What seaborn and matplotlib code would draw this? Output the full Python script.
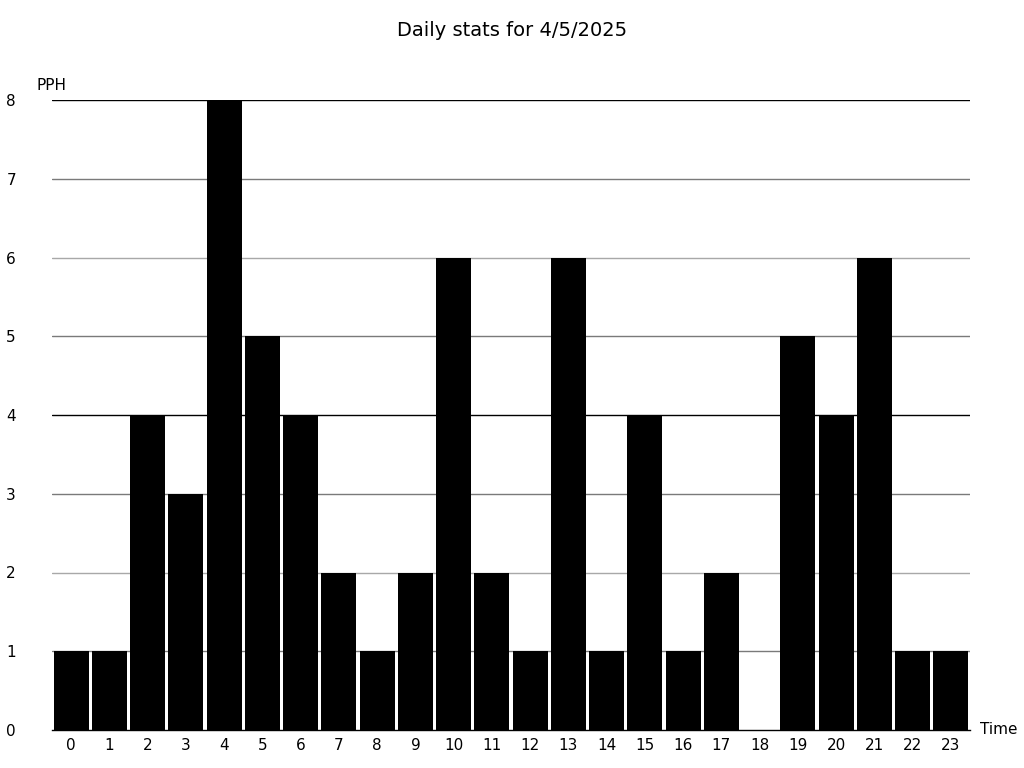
import matplotlib
matplotlib.use("Agg")
import matplotlib.pyplot as plt
import seaborn as sns
import pandas as pd

hours = list(range(24))
pph = [1, 1, 4, 3, 8, 5, 4, 2, 1, 2, 6, 2, 1, 6, 1, 4, 1, 2, 0, 5, 4, 6, 1, 1]
title = "Daily stats for 4/5/2025"
y_ticks = [0, 1, 2, 3, 4, 5, 6, 7, 8]
grid_colors = {1: "#7a7a7a", 2: "#a8a8a8", 3: "#7a7a7a", 4: "#000000",
               5: "#7a7a7a", 6: "#a8a8a8", 7: "#7a7a7a", 8: "#000000"}

sns.set_style("white")
plt.rcParams['font.family'] = ['DejaVu Sans']
plt.rcParams['text.color'] = 'black'
plt.rcParams['xtick.color'] = 'black'
plt.rcParams['ytick.color'] = 'black'

df = pd.DataFrame({"hour": [str(h) for h in hours], "pph": pph})

fig = plt.figure(figsize=(10.24, 7.68), dpi=100)
ax = fig.add_axes([52/1024, 1-730/768, (970-52)/1024, (730-100)/768])
ax.set_axisbelow(True)
for v, c in grid_colors.items():
    ax.axhline(v, color=c, lw=1, zorder=0)

sns.barplot(data=df, x="hour", y="pph", color="black", width=0.92,
            saturation=1, ax=ax, zorder=2)
for p in ax.patches:
    p.set_edgecolor("none")

ax.set_xlim(-0.5, 23.5)
ax.set_ylim(0, 8)
ax.set_yticks(y_ticks)
ax.set_yticklabels([str(t) for t in y_ticks])
ax.tick_params(axis="y", length=0, pad=26, labelsize=11, labelcolor="black")
ax.tick_params(axis="x", length=0, pad=6, labelsize=11, labelcolor="black")
for s in ["top", "right", "left"]:
    ax.spines[s].set_visible(False)
ax.spines["bottom"].set_color("black")
ax.spines["bottom"].set_linewidth(1)
ax.set_xlabel("")
ax.set_ylabel("")

fig.text(37/1024, 1-85/768, "PPH", fontsize=11, ha="left", va="center", color="black")
fig.text(980/1024, 1-730/768, "Time", fontsize=11, ha="left", va="center", color="black")
fig.text(0.5, 1-30/768, title, fontsize=14, ha="center", va="center", color="black")

fig.savefig("out.png", dpi=100)
